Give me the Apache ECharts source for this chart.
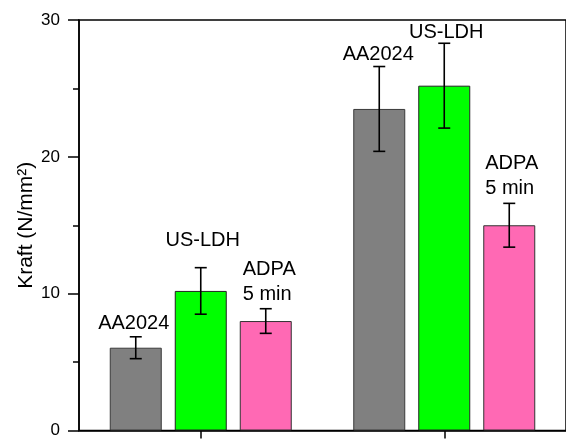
<!DOCTYPE html>
<html>
<head>
<meta charset="utf-8">
<script src="https://cdn.jsdelivr.net/npm/echarts@6/dist/echarts.min.js"></script>
<style>
  html, body { margin: 0; padding: 0; background: #fff; }
  #chart { width: 566px; height: 439px; }
</style>
</head>
<body>
<div id="chart"></div>
<script>
// Sample groups on the x axis (their names sit below the visible area)
const categories = ['Probe 1', 'Probe 2'];

// Series names as printed above the bars
const seriesNames = ['AA2024', 'US-LDH', 'ADPA\n5 min'];

// Mean force per group (N/mm²)
const aa2024 = [6.05, 23.5];
const usLdh = [10.2, 25.2];
const adpa5min = [8.0, 15.0];

// Standard deviations per group (N/mm²)
const aa2024Err = [0.8, 3.1];
const usLdhErr = [1.7, 3.1];
const adpa5minErr = [0.9, 1.6];

// Y axis ticks
const yTicks = [0, 10, 20, 30];

const values = [aa2024, usLdh, adpa5min];
const errors = [aa2024Err, usLdhErr, adpa5minErr];
const colors = ['#808080', '#00ff00', '#ff69b4'];
const borders = ['#3a3a3a', '#222222', '#333333'];

const FONT = 'Arial, "Liberation Sans", sans-serif';
const BAR_W = 52;
const BAR_GAP = 13;
const offsets = [-(BAR_W + BAR_GAP), 0, BAR_W + BAR_GAP];
// pixel lift of each label's last baseline above its error bar cap, per group
const labelLift = [[9, 8], [23, 6], [10, 10]];
// horizontal nudge of each label, per group
const labelShift = [[-2, -1], [2, 2], [-23, -24]];
const LINE_H = 25;
const BASE_FROM_BOTTOM = 8;

const barSeries = values.map((vals, si) => ({
  type: 'bar',
  name: seriesNames[si],
  data: vals,
  barWidth: BAR_W,
  barGap: (BAR_GAP / BAR_W * 100) + '%',
  itemStyle: { color: colors[si], borderColor: borders[si], borderWidth: 1 },
  z: 2
}));

const errSeries = values.map((vals, si) => ({
  type: 'custom',
  name: seriesNames[si] + ' err',
  z: 5,
  data: vals.map((v, ci) => [ci, v, errors[si][ci]]),
  renderItem: function (params, api) {
    const ci = api.value(0), v = api.value(1), e = api.value(2);
    const x = api.coord([ci, v])[0] + offsets[si];
    const yTop = api.coord([ci, v + e])[1];
    const yBot = api.coord([ci, v - e])[1];
    const cap = 6;
    const line = { stroke: '#000', lineWidth: 1.6 };
    const isMulti = seriesNames[si].indexOf('\n') >= 0;
    return {
      type: 'group',
      children: [
        { type: 'line', shape: { x1: x, y1: yTop, x2: x, y2: yBot }, style: line },
        { type: 'line', shape: { x1: x - cap, y1: yTop, x2: x + cap, y2: yTop }, style: line },
        { type: 'line', shape: { x1: x - cap, y1: yBot, x2: x + cap, y2: yBot }, style: line },
        {
          type: 'text',
          x: x + labelShift[si][ci],
          y: yTop - labelLift[si][ci] + BASE_FROM_BOTTOM,
          style: {
            text: seriesNames[si],
            font: '20px ' + FONT,
            fill: '#000',
            align: isMulti ? 'left' : 'center',
            verticalAlign: 'bottom',
            lineHeight: LINE_H
          }
        }
      ]
    };
  }
}));

const chart = echarts.init(document.getElementById('chart'), null, { renderer: 'canvas' });
chart.setOption({
  animation: false,
  backgroundColor: '#fff',
  grid: { left: 79, top: 20, width: 488, bottom: 5, show: true, borderColor: '#000', borderWidth: 1.5, backgroundColor: 'transparent' },
  xAxis: {
    type: 'category',
    data: categories,
    axisLine: { lineStyle: { color: '#000', width: 1.5 } },
    axisTick: { show: true, alignWithLabel: true, length: 8, lineStyle: { color: '#000', width: 1.5 } },
    axisLabel: { show: false },
    splitLine: { show: false }
  },
  yAxis: {
    type: 'value',
    min: yTicks[0],
    max: yTicks[yTicks.length - 1],
    interval: yTicks[1] - yTicks[0],
    name: 'Kraft (N/mm²)',
    nameLocation: 'middle',
    nameGap: 42,
    nameMoveOverlap: false,
    nameTextStyle: { fontFamily: FONT, fontSize: 21, color: '#000' },
    axisLine: { show: true, lineStyle: { color: '#000', width: 1.5 } },
    axisTick: { show: true, inside: false, length: 11, lineStyle: { color: '#000', width: 1.5 } },
    minorTick: { show: true, splitNumber: 2, length: 6, lineStyle: { color: '#000', width: 1.5 } },
    axisLabel: { fontFamily: FONT, fontSize: 17, color: '#000', margin: 19 },
    splitLine: { show: false }
  },
  series: barSeries.concat(errSeries)
});
</script>
</body>
</html>
